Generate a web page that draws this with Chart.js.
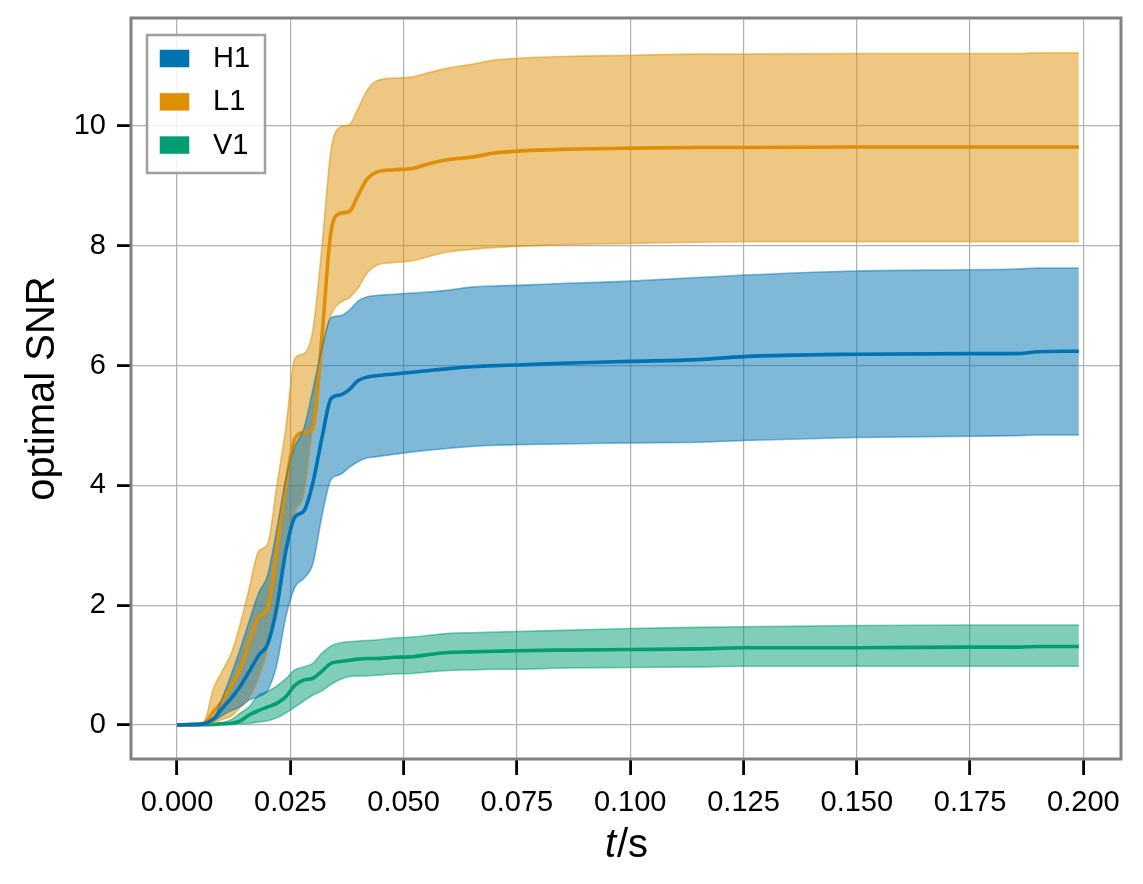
<!DOCTYPE html>
<html><head><meta charset="utf-8">
<script src="https://cdn.jsdelivr.net/npm/chart.js@4/dist/chart.umd.min.js"></script>
<style>html,body{margin:0;padding:0;background:#fff}#wrap{width:1143px;height:884px;position:relative}</style>
</head><body><div id="wrap"><canvas id="c" width="1143" height="884"></canvas></div>
<script>
const times = [0, 0.004, 0.006, 0.008, 0.010, 0.012, 0.014, 0.016, 0.018, 0.020, 0.022, 0.024, 0.026, 0.028, 0.030, 0.032, 0.034, 0.036, 0.038, 0.040, 0.042, 0.044, 0.048, 0.052, 0.056, 0.060, 0.065, 0.070, 0.075, 0.085, 0.100, 0.115, 0.125, 0.150, 0.175, 0.185, 0.190, 0.199];

const detectors = ['H1', 'L1', 'V1'];

const h1Lower  = [0, 0.01, 0.03, 0.06, 0.16, 0.24, 0.31, 0.42, 0.47, 0.58, 1.0, 1.8, 2.3, 2.45, 2.7, 3.5, 4.1, 4.18, 4.3, 4.4, 4.46, 4.48, 4.52, 4.56, 4.59, 4.62, 4.65, 4.67, 4.68, 4.69, 4.71, 4.72, 4.75, 4.80, 4.82, 4.83, 4.84, 4.84];
const h1Median = [0, 0.01, 0.02, 0.1, 0.28, 0.45, 0.65, 0.9, 1.16, 1.35, 1.95, 2.9, 3.47, 3.57, 4.05, 4.8, 5.45, 5.51, 5.6, 5.75, 5.81, 5.83, 5.86, 5.89, 5.92, 5.95, 5.98, 6.0, 6.01, 6.04, 6.07, 6.10, 6.15, 6.19, 6.20, 6.20, 6.23, 6.24];
const h1Upper  = [0, 0.01, 0.02, 0.1, 0.45, 0.85, 1.28, 1.75, 2.2, 2.5, 3.26, 4.1, 4.65, 4.95, 5.6, 6.3, 6.8, 6.83, 6.92, 7.08, 7.15, 7.17, 7.19, 7.21, 7.23, 7.26, 7.31, 7.33, 7.34, 7.37, 7.41, 7.47, 7.51, 7.58, 7.6, 7.61, 7.63, 7.63];

const l1Lower  = [0, 0, 0.01, 0.03, 0.09, 0.15, 0.30, 0.46, 0.78, 1.25, 2.03, 2.85, 3.55, 3.85, 5.0, 6.2, 6.85, 7.05, 7.13, 7.3, 7.55, 7.67, 7.72, 7.75, 7.83, 7.9, 7.94, 7.97, 7.99, 8.02, 8.04, 8.06, 8.07, 8.07, 8.07, 8.07, 8.07, 8.07];
const l1Median = [0, 0.01, 0.03, 0.22, 0.40, 0.65, 0.95, 1.40, 1.80, 1.95, 2.9, 4.0, 4.78, 4.88, 4.95, 6.5, 8.25, 8.54, 8.57, 8.85, 9.12, 9.23, 9.27, 9.29, 9.38, 9.44, 9.48, 9.55, 9.58, 9.61, 9.63, 9.64, 9.64, 9.65, 9.65, 9.65, 9.65, 9.65];
const l1Upper  = [0, 0.02, 0.06, 0.6, 0.9, 1.2, 1.7, 2.3, 2.9, 3.02, 3.98, 4.95, 6.12, 6.2, 6.6, 8.0, 9.6, 9.98, 10.02, 10.3, 10.6, 10.75, 10.8, 10.82, 10.9, 10.97, 11.03, 11.1, 11.13, 11.16, 11.18, 11.2, 11.2, 11.21, 11.21, 11.21, 11.22, 11.22];

const v1Lower  = [0, 0, 0, 0, 0.01, 0.01, 0.02, 0.03, 0.05, 0.07, 0.12, 0.2, 0.3, 0.4, 0.5, 0.57, 0.68, 0.76, 0.81, 0.82, 0.82, 0.83, 0.85, 0.86, 0.89, 0.91, 0.92, 0.93, 0.93, 0.95, 0.96, 0.97, 0.98, 0.98, 0.98, 0.98, 0.98, 0.98];
const v1Median = [0, 0, 0.005, 0.01, 0.02, 0.03, 0.07, 0.17, 0.24, 0.3, 0.36, 0.47, 0.66, 0.75, 0.78, 0.9, 1.03, 1.06, 1.08, 1.10, 1.11, 1.11, 1.13, 1.14, 1.18, 1.21, 1.22, 1.23, 1.24, 1.25, 1.26, 1.27, 1.29, 1.29, 1.30, 1.30, 1.31, 1.31];
const v1Upper  = [0, 0, 0.01, 0.02, 0.04, 0.09, 0.2, 0.31, 0.5, 0.56, 0.65, 0.77, 0.92, 0.97, 1.03, 1.2, 1.32, 1.37, 1.39, 1.40, 1.41, 1.42, 1.45, 1.47, 1.5, 1.53, 1.54, 1.55, 1.56, 1.58, 1.61, 1.63, 1.64, 1.66, 1.67, 1.67, 1.67, 1.67];

const xTicks = [0, 0.025, 0.05, 0.075, 0.1, 0.125, 0.15, 0.175, 0.2];
const xTickLabels = ['0.000', '0.025', '0.050', '0.075', '0.100', '0.125', '0.150', '0.175', '0.200'];
const yTicks = [0, 2, 4, 6, 8, 10];
const yTickLabels = ['0', '2', '4', '6', '8', '10'];

const colors = { H1: [1, 115, 178], L1: [222, 143, 5], V1: [2, 158, 115] };
const series = {
  H1: { lower: h1Lower, median: h1Median, upper: h1Upper },
  L1: { lower: l1Lower, median: l1Median, upper: l1Upper },
  V1: { lower: v1Lower, median: v1Median, upper: v1Upper }
};

const FAMILY = "'Liberation Sans', Arial, Helvetica, sans-serif";
const rgba = (c, a) => `rgba(${c[0]},${c[1]},${c[2]},${a})`;
const pts = arr => times.map((t, i) => ({ x: t, y: arr[i] }));

const datasets = [];
detectors.forEach(d => {
  const c = colors[d], s = series[d];
  const common = { pointRadius: 0, pointHoverRadius: 0, cubicInterpolationMode: 'monotone' };
  datasets.push(Object.assign({ label: d + ' lower', data: pts(s.lower), borderColor: rgba(c, 0.5), borderWidth: 1.6, fill: false }, common));
  datasets.push(Object.assign({ label: d + ' upper', data: pts(s.upper), borderColor: rgba(c, 0.5), backgroundColor: rgba(c, 0.5), borderWidth: 1.6, fill: '-1' }, common));
  datasets.push(Object.assign({ label: d, data: pts(s.median), borderColor: rgba(c, 1), borderWidth: 3.6, fill: false }, common));
});

const framePlugin = {
  id: 'frameLegend',
  afterDraw(chart) {
    const { ctx, chartArea: a } = chart;
    ctx.save();
    // spines
    ctx.strokeStyle = '#808080';
    ctx.lineWidth = 3;
    ctx.strokeRect(a.left, a.top, a.right - a.left, a.bottom - a.top);
    // x axis title: italic t, upright /s
    ctx.fillStyle = '#000';
    ctx.textBaseline = 'alphabetic';
    const fItal = `italic 40px ${FAMILY}`, fReg = `40px ${FAMILY}`;
    ctx.font = fItal; const w1 = ctx.measureText('t').width;
    ctx.font = fReg; const w2 = ctx.measureText('/s').width;
    const cx = (a.left + a.right) / 2, x0 = cx - (w1 + w2) / 2, by = a.bottom + 98;
    ctx.font = fItal; ctx.fillText('t', x0, by);
    ctx.font = fReg; ctx.fillText('/s', x0 + w1 + 1, by);
    // legend
    const lx = a.left + 16, ly = a.top + 17, lw = 118, lh = 138;
    ctx.fillStyle = 'rgba(255,255,255,0.85)';
    ctx.fillRect(lx, ly, lw, lh);
    ctx.strokeStyle = '#a0a0a0';
    ctx.lineWidth = 2.5;
    ctx.strokeRect(lx, ly, lw, lh);
    ctx.font = `29px ${FAMILY}`;
    ctx.textBaseline = 'middle';
    detectors.forEach((d, i) => {
      const py = ly + 15 + i * 43.3;
      ctx.fillStyle = rgba(colors[d], 1);
      ctx.fillRect(lx + 13, py, 29, 17);
      ctx.strokeStyle = rgba(colors[d], 0.5);
      ctx.lineWidth = 1;
      ctx.strokeRect(lx + 13, py, 29, 17);
      ctx.fillStyle = '#000';
      ctx.fillText(d, lx + 66, py + 9);
    });
    ctx.restore();
  }
};

new Chart(document.getElementById('c'), {
  type: 'line',
  data: { datasets },
  options: {
    responsive: false,
    devicePixelRatio: 1,
    animation: false,
    events: [],
    layout: { padding: { left: 0, top: 18, right: 22, bottom: 0 } },
    plugins: {
      legend: { display: false },
      tooltip: { enabled: false },
      filler: { propagate: false, drawTime: 'beforeDatasetsDraw' }
    },
    scales: {
      x: {
        type: 'linear',
        min: -0.01015,
        max: 0.2083,
        afterBuildTicks: axis => { axis.ticks = xTicks.map(v => ({ value: v })); },
        afterFit: s => { s.height = 125; s.paddingLeft = 0; s.paddingRight = 0; },
        ticks: {
          callback: (v, i) => xTickLabels[i],
          font: { family: FAMILY, size: 29 },
          color: '#000',
          padding: 11,
          maxRotation: 0,
          autoSkip: false
        },
        grid: { color: '#b0b0b0', lineWidth: 1.2, drawTicks: true, tickLength: 16, tickColor: '#000', tickWidth: 2.8 },
        border: { display: false },
        title: { display: false }
      },
      y: {
        type: 'linear',
        min: -0.568,
        max: 11.803,
        afterBuildTicks: axis => { axis.ticks = yTicks.map(v => ({ value: v })); },
        afterFit: s => { s.width = 131; s.paddingTop = 0; s.paddingBottom = 0; },
        ticks: {
          callback: (v, i) => yTickLabels[i],
          font: { family: FAMILY, size: 29 },
          color: '#000',
          padding: 11,
          autoSkip: false
        },
        grid: { color: '#b0b0b0', lineWidth: 1.2, drawTicks: true, tickLength: 14, tickColor: '#000', tickWidth: 2.8 },
        border: { display: false },
        title: {
          display: true,
          text: 'optimal SNR',
          font: { family: FAMILY, size: 40 },
          color: '#000',
          padding: { top: 19, bottom: 0 }
        }
      }
    }
  },
  plugins: [framePlugin]
});
</script>
</body></html>
